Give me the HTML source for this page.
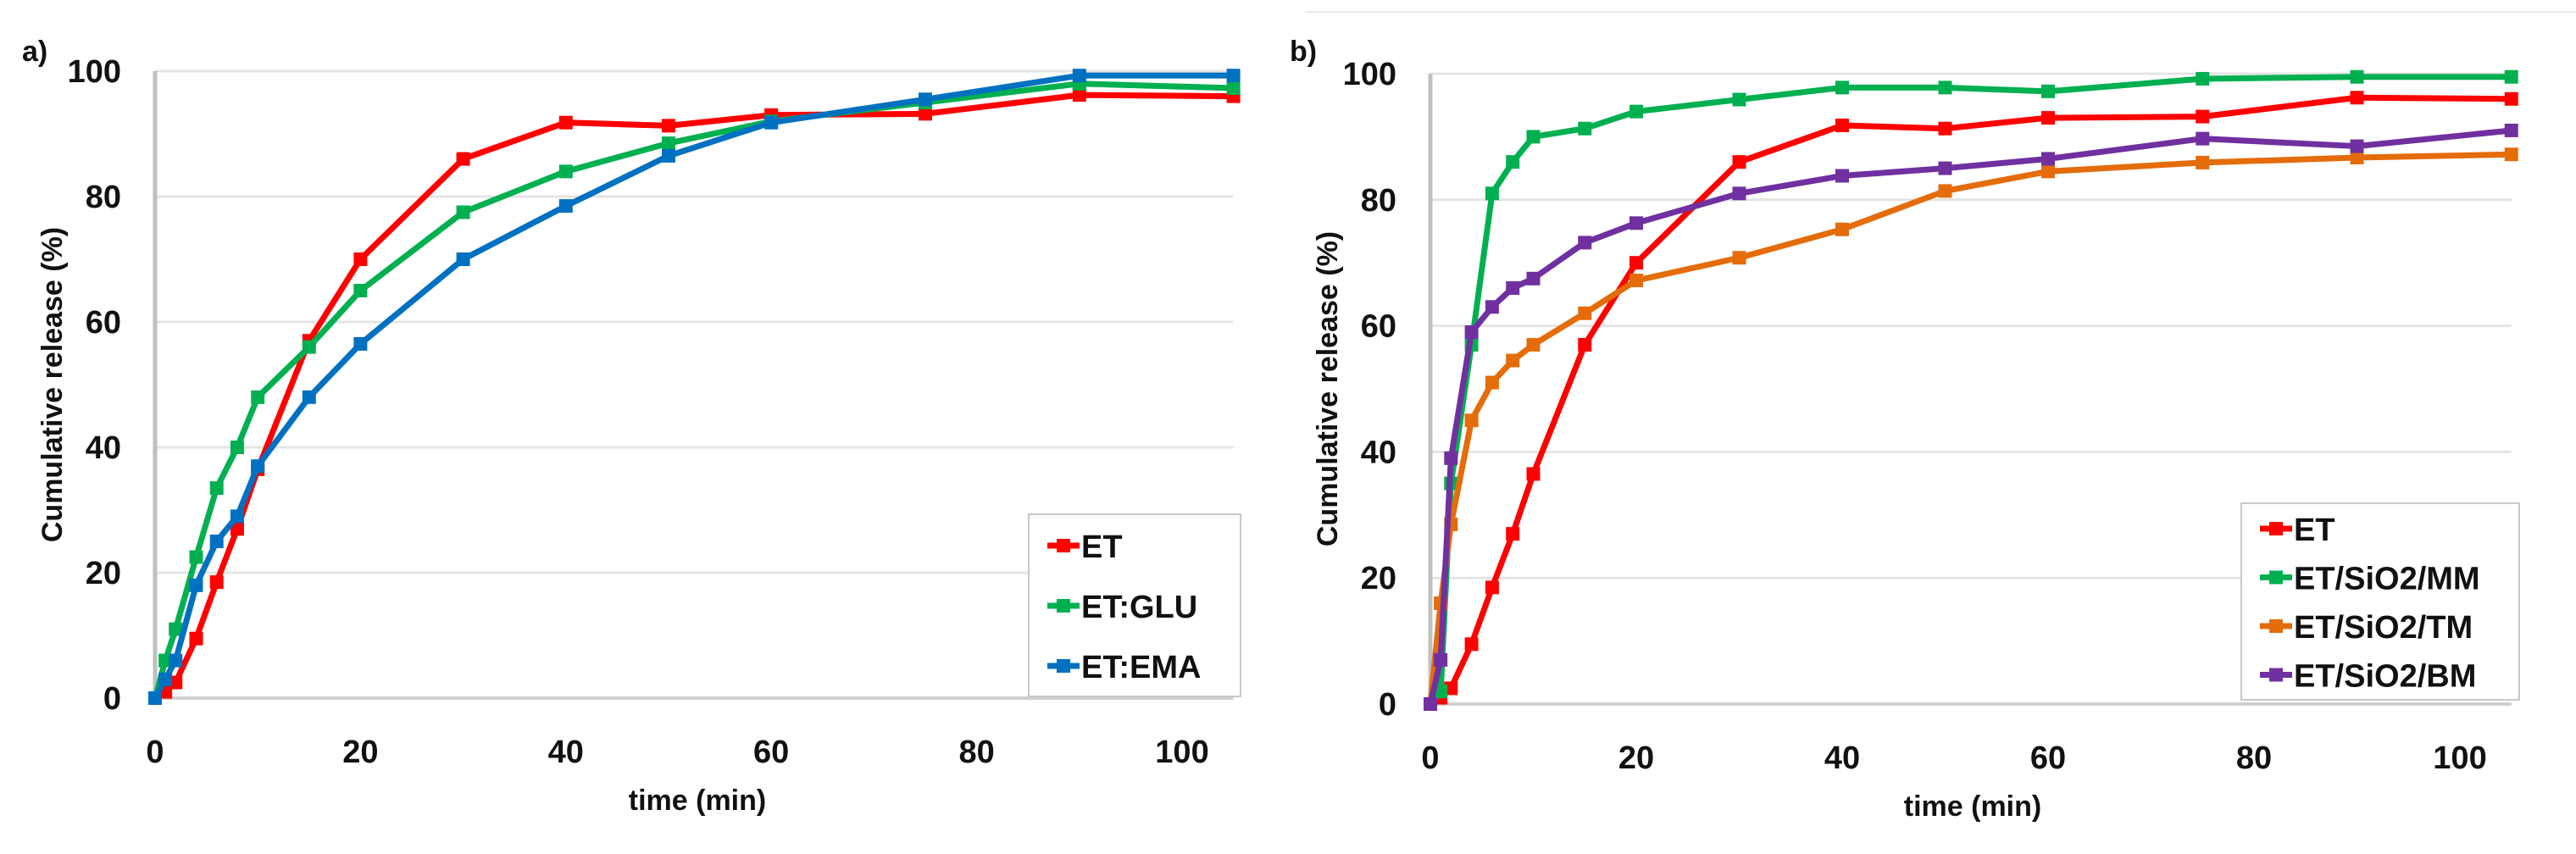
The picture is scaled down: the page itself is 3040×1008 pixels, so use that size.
<!DOCTYPE html>
<html><head><meta charset="utf-8"><style>
html,body{margin:0;padding:0;background:#fff;}
svg{display:block;font-family:"Liberation Sans",sans-serif;}
</style></head><body>
<svg id="c" width="3040" height="1008" viewBox="0 0 3040 1008" xmlns="http://www.w3.org/2000/svg">
<line x1="1540" y1="14" x2="3040" y2="14" stroke="#e8e8e8" stroke-width="2"/>
</svg>
<script>
const times=[0,1,2,4,6,8,10,15,20,30,40,50,60,75,90,105];
const xTicks=[0,20,40,60,80,100];
const yTicks=[0,20,40,60,80,100];
const seriesET=[0,1,2.5,9.5,18.5,27,36.5,57,70,86,91.8,91.3,93,93.2,96.2,96];
const seriesGLU=[0,6,11,22.5,33.5,40,48,56,65,77.5,84,88.5,92,95,98,97.3];
const seriesEMA=[0,3,6,18,25,29,37,48,56.5,70,78.5,86.5,91.8,95.5,99.3,99.3];
const seriesMM=[0,2,35,57,81,86,90,91.3,94,95.9,97.8,97.8,97.2,99.2,99.5,99.5];
const seriesTM=[0,16,28.5,45,51,54.5,57,62,67.2,70.8,75.3,81.4,84.5,85.9,86.7,87.2];
const seriesBM=[0,7,39,59,63,66,67.5,73.2,76.3,81,83.8,85,86.5,89.7,88.5,91];
const namesA=["ET","ET:GLU","ET:EMA"];
const namesB=["ET","ET/SiO2/MM","ET/SiO2/TM","ET/SiO2/BM"];

const NS="http://www.w3.org/2000/svg";
const svg=document.getElementById('c');
function mk(tag,attrs,parent){const e=document.createElementNS(NS,tag);for(const k in attrs)e.setAttribute(k,attrs[k]);(parent||svg).appendChild(e);return e;}

function panel(p){
  const g=mk('g',{});
  
  
  const sx=v=>p.x0+v*p.kx, sy=v=>p.y0-v*p.ky;
  yTicks.forEach(t=>{
    if(t>0){const l=mk('line',{x1:sx(0),x2:sx(105),y1:sy(t),y2:sy(t),stroke:'#e4e4e4','stroke-width':3},g);
      }
    const tx=mk('text',{x:p.x0-40,y:sy(t)+13,'text-anchor':'end','font-size':38,'font-weight':'bold',fill:'#111'},g);
    tx.textContent=t;
    
  });
  const bl=mk('line',{x1:sx(0),x2:sx(105),y1:sy(0),y2:sy(0),stroke:'#d0d0d0','stroke-width':4},g);
  
  const al=mk('line',{x1:sx(0),x2:sx(0),y1:sy(100),y2:sy(0),stroke:'#c0c0c0','stroke-width':5},g);
  
  xTicks.forEach(t=>{
    const tx=mk('text',{x:sx(t),y:p.y0+76,'text-anchor':'middle','font-size':38,'font-weight':'bold',fill:'#111'},g);
    tx.textContent=t;
    
  });
  const xt=mk('text',{x:p.x0+640,y:p.y0+132,'text-anchor':'middle','font-size':34,'font-weight':'bold',fill:'#111'},g);
  xt.textContent='time (min)';
  
  const yt=mk('text',{x:0,y:0,'text-anchor':'middle','font-size':34,'font-weight':'bold',fill:'#111',transform:`translate(${p.x0-110},${(sy(100)+sy(0))/2}) rotate(-90)`},g);
  yt.textContent='Cumulative release  (%)';
  
  const lb=mk('text',{x:p.lx,y:p.ly,'font-size':34,'font-weight':'bold',fill:'#111'},g);
  lb.textContent=p.label;
  
  p.series.forEach((s,i)=>{
    const pts=times.map((t,j)=>sx(t)+','+sy(s.v[j])).join(' ');
    const pl=mk('polyline',{points:pts,fill:'none',stroke:s.c,'stroke-width':7,'stroke-linejoin':'round'},g);
    
    
    times.forEach((t,j)=>{
      const r=mk('rect',{x:sx(t)-8,y:sy(s.v[j])-8,width:16,height:16,fill:s.c},g);
      
      
    });
  });
  const lg=mk('g',{},g);
  
  
  mk('rect',{x:p.lgx,y:p.lgy,width:p.lgw,height:p.lgh,fill:'#fff',stroke:'#c8c8c8','stroke-width':2},lg);
  p.series.forEach((s,i)=>{
    const y=p.lgy+p.lgr0+i*p.lgdy;
    const e=mk('g',{},lg);
    
    
    mk('line',{x1:p.lgx+22,x2:p.lgx+60,y1:y,y2:y,stroke:s.c,'stroke-width':7},e);
    mk('rect',{x:p.lgx+33,y:y-8,width:16,height:16,fill:s.c},e);
    const t=mk('text',{x:p.lgx+62,y:y+14,'font-size':38,'font-weight':'bold',fill:'#111'},e);
    t.textContent=s.n;
  });
}
panel({id:'a',x0:183,kx:12.12,y0:824,ky:7.40,label:'a)',lx:26,ly:72,
  lgx:1214,lgy:607,lgw:250,lgh:215,lgr0:37,lgdy:71,
  series:[{n:namesA[0],v:seriesET,c:'#ff0000'},{n:namesA[1],v:seriesGLU,c:'#00b050'},{n:namesA[2],v:seriesEMA,c:'#0070c0'}]});
panel({id:'b',x0:1688,kx:12.15,y0:831,ky:7.44,label:'b)',lx:1522,ly:72,
  lgx:2645,lgy:594,lgw:328,lgh:232,lgr0:30,lgdy:57.5,
  series:[{n:namesB[0],v:seriesET,c:'#ff0000'},{n:namesB[1],v:seriesMM,c:'#00b050'},{n:namesB[2],v:seriesTM,c:'#e46c0a'},{n:namesB[3],v:seriesBM,c:'#7030a0'}]});
</script>
</body></html>
